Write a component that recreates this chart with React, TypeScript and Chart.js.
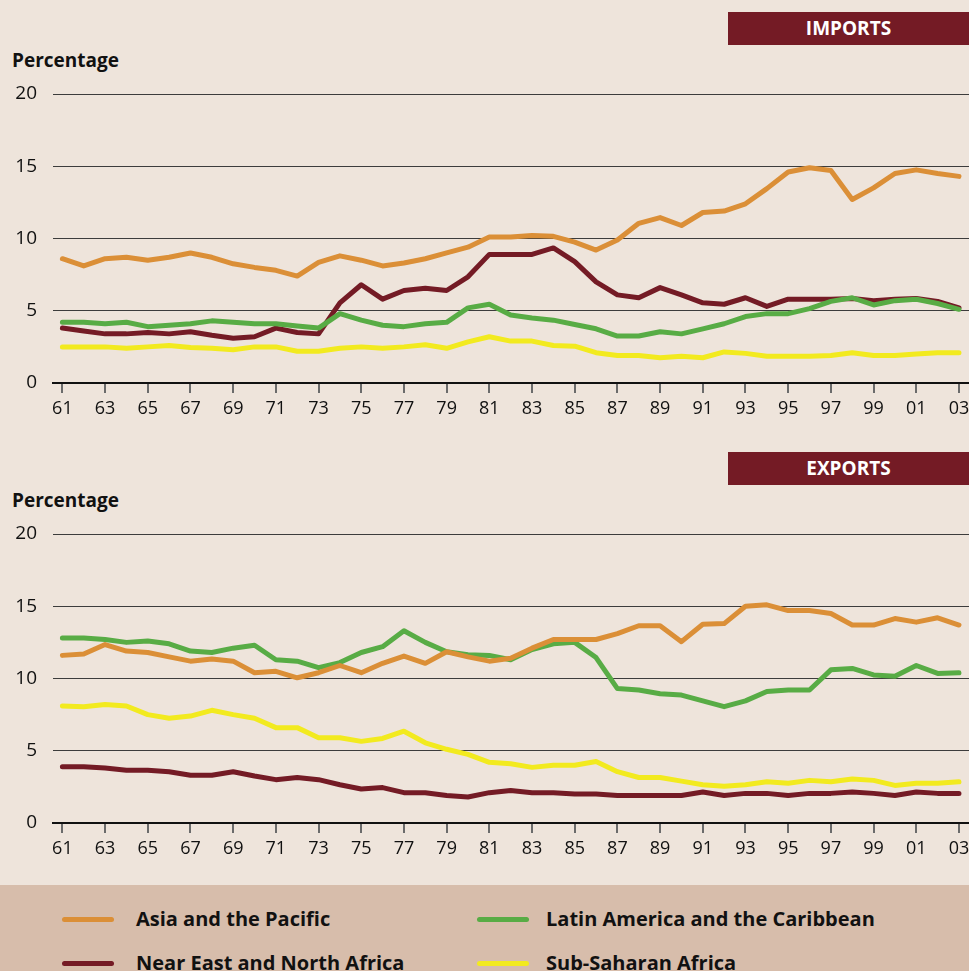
import React, { useEffect, useRef } from "react";
import { Chart, registerables } from "chart.js";

Chart.register(...registerables);

const YEARS = [
  1961, 1962, 1963, 1964, 1965, 1966, 1967, 1968, 1969, 1970,
  1971, 1972, 1973, 1974, 1975, 1976, 1977, 1978, 1979, 1980,
  1981, 1982, 1983, 1984, 1985, 1986, 1987, 1988, 1989, 1990,
  1991, 1992, 1993, 1994, 1995, 1996, 1997, 1998, 1999, 2000,
  2001, 2002, 2003,
];

const TICK_YEARS = [
  1961, 1963, 1965, 1967, 1969, 1971, 1973, 1975, 1977, 1979, 1981,
  1983, 1985, 1987, 1989, 1991, 1993, 1995, 1997, 1999, 2001, 2003,
];
const TICK_LABELS = [
  "61", "63", "65", "67", "69", "71", "73", "75", "77", "79", "81",
  "83", "85", "87", "89", "91", "93", "95", "97", "99", "01", "03",
];

const SERIES_NAMES = [
  "Asia and the Pacific",
  "Latin America and the Caribbean",
  "Near East and North Africa",
  "Sub-Saharan Africa",
];

// IMPORTS (percentage)
const IMP_ASIA = [
  8.6, 8.1, 8.6, 8.7, 8.5, 8.7, 9.0, 8.7, 8.25, 8.0,
  7.8, 7.4, 8.35, 8.8, 8.5, 8.1, 8.3, 8.6, 9.0, 9.4,
  10.1, 10.1, 10.2, 10.15, 9.75, 9.2, 9.9, 11.05, 11.45, 10.9,
  11.8, 11.9, 12.4, 13.45, 14.6, 14.9, 14.7, 12.7, 13.5, 14.5,
  14.75, 14.5, 14.3,
];
const IMP_LATAM = [
  4.2, 4.2, 4.1, 4.2, 3.9, 4.0, 4.1, 4.3, 4.2, 4.1,
  4.1, 3.95, 3.8, 4.8, 4.35, 4.0, 3.9, 4.1, 4.2, 5.2,
  5.45, 4.7, 4.5, 4.35, 4.05, 3.75, 3.25, 3.25, 3.55, 3.4,
  3.75, 4.1, 4.6, 4.8, 4.8, 5.15, 5.65, 5.9, 5.4, 5.7,
  5.8, 5.5, 5.1,
];
const IMP_NENA = [
  3.8, 3.6, 3.4, 3.4, 3.5, 3.4, 3.55, 3.3, 3.1, 3.2,
  3.8, 3.5, 3.4, 5.55, 6.8, 5.8, 6.4, 6.55, 6.4, 7.35,
  8.9, 8.9, 8.9, 9.35, 8.4, 7.0, 6.1, 5.9, 6.6, 6.1,
  5.55, 5.45, 5.9, 5.3, 5.8, 5.8, 5.8, 5.85, 5.7, 5.8,
  5.85, 5.65, 5.2,
];
const IMP_SSA = [
  2.5, 2.5, 2.5, 2.4, 2.5, 2.6, 2.45, 2.4, 2.3, 2.5,
  2.5, 2.2, 2.2, 2.4, 2.5, 2.4, 2.5, 2.65, 2.4, 2.85,
  3.2, 2.9, 2.9, 2.6, 2.55, 2.1, 1.9, 1.9, 1.75, 1.85,
  1.75, 2.15, 2.05, 1.85, 1.85, 1.85, 1.9, 2.1, 1.9, 1.9,
  2.0, 2.1, 2.1,
];

// EXPORTS (percentage)
const EXP_ASIA = [
  11.6, 11.7, 12.35, 11.9, 11.8, 11.5, 11.2, 11.35, 11.2, 10.4,
  10.5, 10.05, 10.4, 10.9, 10.4, 11.05, 11.55, 11.05, 11.85, 11.5,
  11.2, 11.4, 12.1, 12.7, 12.7, 12.7, 13.1, 13.65, 13.65, 12.55,
  13.75, 13.8, 15.0, 15.1, 14.7, 14.7, 14.5, 13.7, 13.7, 14.15,
  13.9, 14.2, 13.7,
];
const EXP_LATAM = [
  12.8, 12.8, 12.7, 12.5, 12.6, 12.4, 11.9, 11.8, 12.1, 12.3,
  11.3, 11.2, 10.75, 11.1, 11.8, 12.2, 13.3, 12.5, 11.85, 11.65,
  11.6, 11.3, 12.0, 12.4, 12.5, 11.45, 9.3, 9.2, 8.95, 8.85,
  8.45, 8.05, 8.45, 9.1, 9.2, 9.2, 10.6, 10.7, 10.25, 10.15,
  10.9, 10.35, 10.4,
];
const EXP_NENA = [
  3.9, 3.9, 3.8, 3.65, 3.65, 3.55, 3.3, 3.3, 3.55, 3.25,
  3.0, 3.15, 3.0, 2.65, 2.35, 2.45, 2.1, 2.1, 1.9, 1.8,
  2.1, 2.25, 2.1, 2.1, 2.0, 2.0, 1.9, 1.9, 1.9, 1.9,
  2.15, 1.9, 2.05, 2.05, 1.9, 2.05, 2.05, 2.15, 2.05, 1.9,
  2.15, 2.05, 2.05,
];
const EXP_SSA = [
  8.1, 8.05, 8.2, 8.1, 7.5, 7.25, 7.4, 7.8, 7.5, 7.25,
  6.6, 6.6, 5.9, 5.9, 5.65, 5.85, 6.35, 5.55, 5.1, 4.75,
  4.2, 4.1, 3.85, 4.0, 4.0, 4.25, 3.55, 3.15, 3.15, 2.9,
  2.65, 2.55, 2.65, 2.85, 2.75, 2.95, 2.85, 3.05, 2.95, 2.6,
  2.75, 2.75, 2.85,
];

const COLORS = ["#DB8F37", "#58AC45", "#741B25", "#F2EA1F"];
const BG = "#EEE4DB";
const LEGEND_BG = "#D7BDAB";
const TEXT = "#111111";
const FONT = "'Open Sans', 'Noto Sans', sans-serif";

function toPoints(vals: number[]) {
  return YEARS.map((yr, i) => ({ x: yr, y: vals[i] }));
}

function Panel({ top, series }: { top: number; series: number[][] }) {
  const ref = useRef<HTMLCanvasElement>(null);
  useEffect(() => {
    const chart = new Chart(ref.current as HTMLCanvasElement, {
      type: "line",
      data: {
        datasets: series.map((vals, i) => ({
          label: SERIES_NAMES[i],
          data: toPoints(vals),
          borderColor: COLORS[i],
          backgroundColor: COLORS[i],
          borderWidth: 5,
          pointRadius: 0,
          tension: 0,
          fill: false,
          borderJoinStyle: "round" as const,
          borderCapStyle: "round" as const,
        })),
      },
      options: {
        responsive: false,
        animation: false,
        layout: { padding: { top: 15, left: 0, right: 0, bottom: 0 } },
        plugins: {
          legend: { display: false },
          tooltip: { enabled: false },
        },
        scales: {
          x: {
            type: "linear",
            min: 1960.56,
            max: 2003.47,
            afterBuildTicks: (scale: any) => {
              scale.ticks = TICK_YEARS.map((v) => ({ value: v }));
            },
            afterFit: (scale: any) => {
              scale.height = 40;
              scale.paddingLeft = 0;
              scale.paddingRight = 0;
            },
            grid: {
              drawOnChartArea: false,
              drawTicks: true,
              tickLength: 10,
              color: "#6b6b6b",
              lineWidth: 2,
            },
            border: { display: true, color: "#111111", width: 2 },
            ticks: {
              autoSkip: false,
              maxRotation: 0,
              padding: 5,
              color: TEXT,
              font: { family: FONT, size: 18 },
              callback: (value: any) => {
                const idx = TICK_YEARS.indexOf(Number(value));
                return idx >= 0 ? TICK_LABELS[idx] : "";
              },
            },
          },
          y: {
            min: 0,
            max: 20,
            afterFit: (scale: any) => {
              scale.width = 53;
              scale.paddingTop = 0;
              scale.paddingBottom = 0;
            },
            ticks: {
              stepSize: 5,
              padding: 16,
              color: TEXT,
              font: { family: FONT, size: 19 },
            },
            grid: { color: "#3c3c3c", lineWidth: 1, drawTicks: false },
            border: { display: false },
          },
        },
      },
    } as any);
    return () => chart.destroy();
  }, []);
  return (
    <canvas
      ref={ref}
      width={969}
      height={344}
      style={{ position: "absolute", left: 0, top, width: 969, height: 344 }}
    />
  );
}

function TitleBox({ top, text }: { top: number; text: string }) {
  return (
    <div
      style={{
        position: "absolute",
        left: 728,
        top,
        width: 241,
        height: 33,
        background: "#741B25",
        color: "#ffffff",
        fontFamily: FONT,
        fontWeight: 700,
        fontSize: 19,
        display: "flex",
        alignItems: "center",
        justifyContent: "center",
        lineHeight: "19px",
      }}
    >
      {text}
    </div>
  );
}

function AxisTitle({ top }: { top: number }) {
  return (
    <div
      style={{
        position: "absolute",
        left: 12,
        top,
        fontFamily: FONT,
        fontWeight: 700,
        fontSize: 19,
        lineHeight: "19px",
        color: TEXT,
        whiteSpace: "nowrap",
      }}
    >
      Percentage
    </div>
  );
}

function LegendItem({ x, textX, y, color, text }: { x: number; textX: number; y: number; color: string; text: string }) {
  return (
    <>
      <div
        style={{
          position: "absolute",
          left: x,
          top: y - 2.5,
          width: 52,
          height: 5,
          borderRadius: 3,
          background: color,
        }}
      />
      <div
        style={{
          position: "absolute",
          left: textX,
          top: y - 11,
          fontFamily: FONT,
          fontWeight: 700,
          fontSize: 20,
          lineHeight: "21px",
          color: TEXT,
          whiteSpace: "nowrap",
        }}
      >
        {text}
      </div>
    </>
  );
}

export default function App() {
  return (
    <div
      style={{
        position: "absolute",
        left: 0,
        top: 0,
        width: 969,
        height: 971,
        background: BG,
        overflow: "hidden",
      }}
    >
      <TitleBox top={12} text="IMPORTS" />
      <AxisTitle top={51} />
      <Panel top={79} series={[IMP_ASIA, IMP_LATAM, IMP_NENA, IMP_SSA]} />

      <TitleBox top={452} text="EXPORTS" />
      <AxisTitle top={491} />
      <Panel top={519} series={[EXP_ASIA, EXP_LATAM, EXP_NENA, EXP_SSA]} />

      <div
        style={{
          position: "absolute",
          left: 0,
          top: 885,
          width: 969,
          height: 86,
          background: LEGEND_BG,
        }}
      />
      <LegendItem x={62} textX={136} y={919} color={COLORS[0]} text={SERIES_NAMES[0]} />
      <LegendItem x={62} textX={136} y={963} color={COLORS[2]} text={SERIES_NAMES[2]} />
      <LegendItem x={477} textX={546} y={919} color={COLORS[1]} text={SERIES_NAMES[1]} />
      <LegendItem x={477} textX={546} y={963} color={COLORS[3]} text={SERIES_NAMES[3]} />
    </div>
  );
}
